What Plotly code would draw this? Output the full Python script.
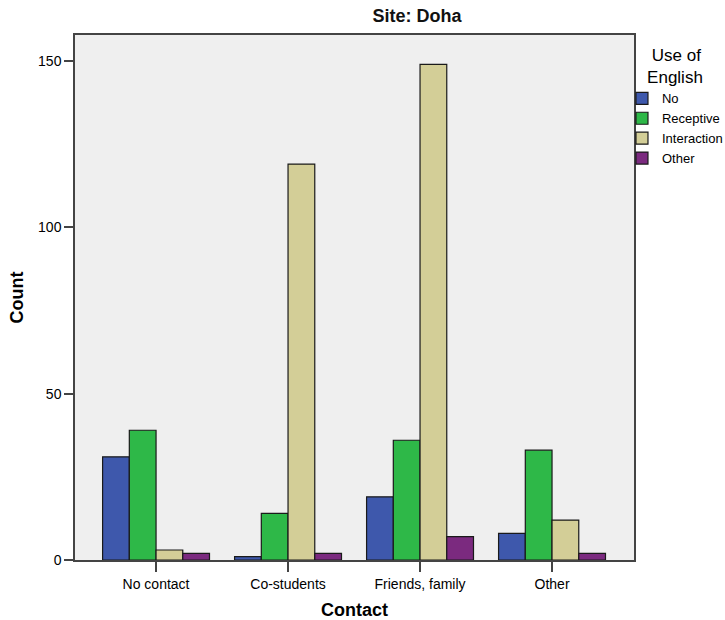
import plotly.graph_objects as go

categories = ["No contact", "Co-students", "Friends, family", "Other"]
series_names = ["No", "Receptive", "Interaction", "Other"]
val_no = [31, 1, 19, 8]
val_receptive = [39, 14, 36, 33]
val_interaction = [3, 119, 149, 12]
val_other = [2, 2, 7, 2]
colors = ["#3E58AC", "#2EB848", "#D3CE97", "#7B2A7F"]
y_ticks = [0, 50, 100, 150]

FONT = "Liberation Sans, Arial, sans-serif"

fig = go.Figure()
for name, vals, col in zip(series_names, [val_no, val_receptive, val_interaction, val_other], colors):
    fig.add_trace(go.Bar(
        x=categories, y=vals, name=name,
        marker=dict(color=col, line=dict(color="#1a1a1a", width=1.2)),
    ))

fig.update_layout(
    width=725, height=620,
    barmode="group", bargap=0.19, bargroupgap=0,
    paper_bgcolor="white", plot_bgcolor="#EFEFEF",
    margin=dict(l=75, r=91, t=35, b=60, autoexpand=False),
    font=dict(family=FONT, color="#000000", size=14),
    title=dict(text="<b>Site: Doha</b>", x=0.612, xref="paper", xanchor="center",
               y=1, yref="container", yanchor="top", pad=dict(t=9),
               font=dict(size=18, family=FONT, color="#111")),
    xaxis=dict(
        type="category", range=[-0.614, 3.621],
        showline=True, linecolor="#444", linewidth=1.5, mirror=True,
        ticks="outside", ticklen=10, tickwidth=1.5, tickcolor="#444",
        tickfont=dict(size=14), showgrid=False,
        title=dict(text="<b>Contact</b>", font=dict(size=18), standoff=13),
    ),
    yaxis=dict(
        range=[0, 157.8], tickvals=y_ticks,
        showline=True, linecolor="#444", linewidth=1.5, mirror=True,
        ticks="outside", ticklen=9, tickwidth=1.5, tickcolor="#444",
        tickfont=dict(size=14), showgrid=False, zeroline=False,
        title=dict(text="<b>Count</b>", font=dict(size=18), standoff=10),
    ),
    legend=dict(
        x=0.9785, xanchor="left", y=0.992, yanchor="top",
        bgcolor="rgba(0,0,0,0)", borderwidth=0,
        font=dict(size=13, family=FONT),
        title=dict(text="&nbsp;Use of<br>English", side="top center", font=dict(size=17, family=FONT)),
        tracegroupgap=0,
    ),
)

fig.write_html("out.html", config={"displayModeBar": False},
               post_script="document.body.style.margin='0px';")
